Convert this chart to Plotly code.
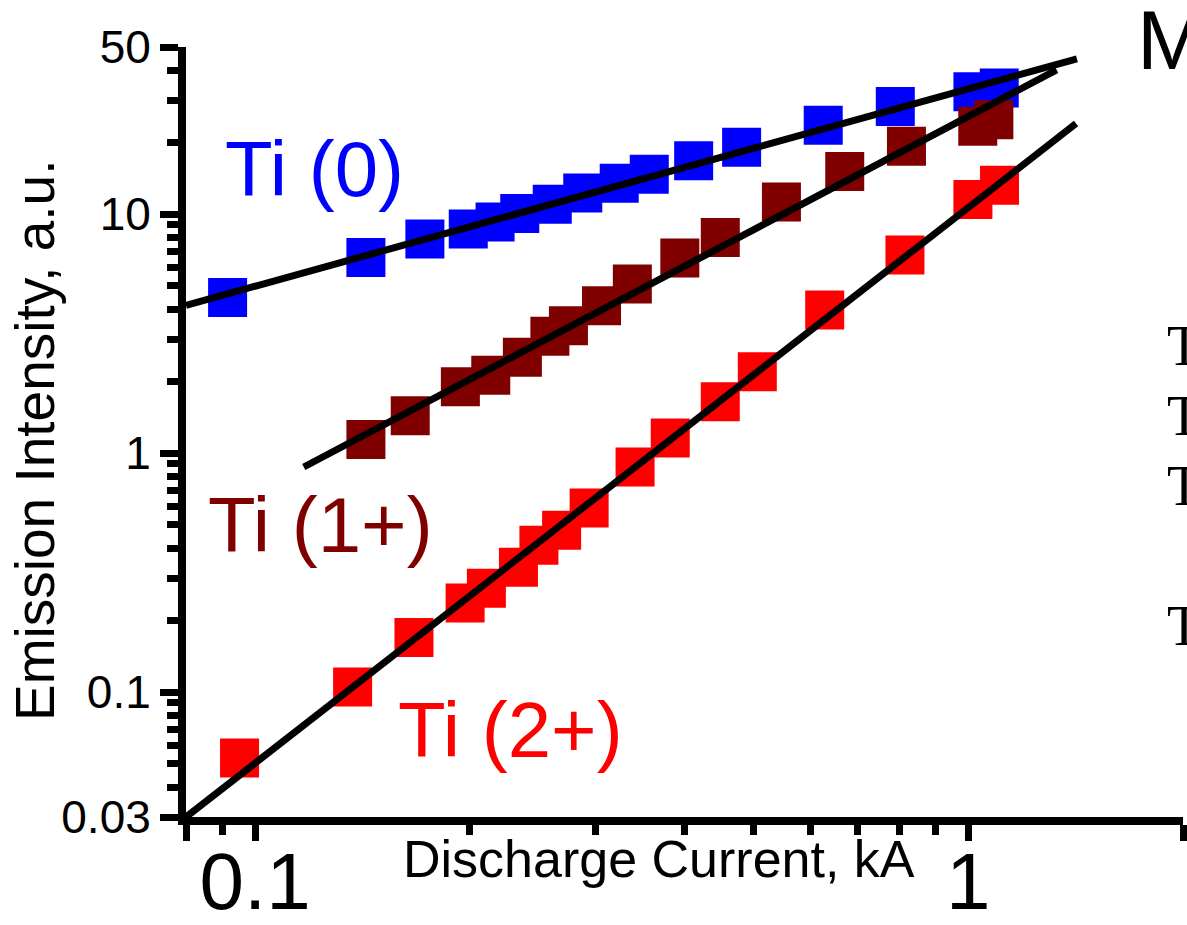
import plotly.graph_objects as go

# ---------------- data ----------------
ti0_x = [0.0915, 0.143, 0.173, 0.199, 0.217, 0.235, 0.261, 0.288, 0.324, 0.357,
         0.412, 0.481, 0.626, 0.79, 1.015, 1.105]
ti0_y = [4.48, 6.58, 7.86, 8.66, 9.26, 10.05, 11.0, 12.24, 13.47, 14.69,
         16.73, 19.04, 23.5, 28.2, 32.5, 33.7]

ti1_x = [0.143, 0.165, 0.194, 0.214, 0.237, 0.259, 0.275, 0.306, 0.338, 0.394,
         0.449, 0.547, 0.671, 0.819, 1.031, 1.086]
ti1_y = [1.139, 1.434, 1.895, 2.117, 2.517, 3.08, 3.41, 4.13, 5.1, 6.55,
         7.98, 11.22, 15.05, 19.23, 23.3, 24.8]

ti2_x = [0.0951, 0.137, 0.167, 0.197, 0.211, 0.234, 0.25, 0.269, 0.294, 0.341,
         0.382, 0.449, 0.506, 0.629, 0.815, 1.015, 1.106]
ti2_y = [0.053, 0.105, 0.169, 0.236, 0.272, 0.333, 0.411, 0.475, 0.589, 0.874,
         1.155, 1.641, 2.19, 3.97, 6.74, 11.5, 13.2]

# fitted power-law lines (end points)
fit0_x = [0.08, 1.42]
fit0_y = [4.15, 44.6]
fit1_x = [0.117, 1.33]
fit1_y = [0.874, 40.1]
fit2_x = [0.08, 1.416]
fit2_y = [0.03, 23.9]

x_tickvals = [0.08, 0.1, 1, 2]
x_ticktext = ["", "0.1", "1", ""]
x_minor = [0.09, 0.2, 0.3, 0.4, 0.5, 0.6, 0.7, 0.8, 0.9]
y_tickvals = [0.03, 0.1, 1, 10, 50]
y_ticktext = ["0.03", "0.1", "1", "10", "50"]
y_minor = [0.04, 0.05, 0.06, 0.07, 0.08, 0.09,
           0.2, 0.3, 0.4, 0.5, 0.6, 0.7, 0.8, 0.9,
           2, 3, 4, 5, 6, 7, 8, 9, 20, 30, 40]

# ---------------- layout geometry ----------------
W, H = 1187, 925
L, R, T, B = 186, 4, 47, 108
PW, PH = W - L - R, H - T - B


def px(x):
    return (x - L) / PW


def py(y):
    return (H - B - y) / PH


SANS = "Liberation Sans, Arial, sans-serif"
SERIF = "Liberation Serif, Times New Roman, serif"

fig = go.Figure()
msize = 39
for xs, ys, col in [(ti0_x, ti0_y, "#0000FF"),
                    (ti1_x, ti1_y, "#800000"),
                    (ti2_x, ti2_y, "#FF0000")]:
    fig.add_trace(go.Scatter(x=xs, y=ys, mode="markers",
                             marker=dict(symbol="square", size=msize, color=col,
                                         line=dict(width=0)),
                             cliponaxis=False, showlegend=False))

for xs, ys in [(fit0_x, fit0_y), (fit1_x, fit1_y), (fit2_x, fit2_y)]:
    fig.add_trace(go.Scatter(x=xs, y=ys, mode="lines",
                             line=dict(color="black", width=7),
                             showlegend=False))

fig.update_xaxes(type="log", range=[-1.09691, 0.30103], automargin=False,
                 showline=True, linewidth=8, linecolor="black",
                 showgrid=False, zeroline=False,
                 tickmode="array", tickvals=x_tickvals, ticktext=x_ticktext,
                 ticks="outside", ticklen=16, tickwidth=7, tickcolor="black",
                 ticklabelstandoff=-28,
                 tickfont=dict(family=SANS, size=80, color="black"),
                 minor=dict(tickmode="array", tickvals=x_minor, ticks="outside",
                            ticklen=10, tickwidth=7, tickcolor="black",
                            showgrid=False))
fig.update_yaxes(type="log", range=[-1.52288, 1.69897], automargin=False,
                 showline=True, linewidth=8, linecolor="black",
                 showgrid=False, zeroline=False,
                 tickmode="array", tickvals=y_tickvals, ticktext=y_ticktext,
                 ticks="outside", ticklen=18, tickwidth=7, tickcolor="black",
                 tickfont=dict(family=SANS, size=46, color="black"),
                 minor=dict(tickmode="array", tickvals=y_minor, ticks="outside",
                            ticklen=11, tickwidth=7, tickcolor="black",
                            showgrid=False))

ann = []


def add_text(text, x, y, size, color="black", family=SANS, xanchor="center",
             angle=0):
    ann.append(dict(text=text, x=px(x), y=py(y), xref="paper", yref="paper",
                    xanchor=xanchor, yanchor="middle", showarrow=False,
                    textangle=angle,
                    font=dict(family=family, size=size, color=color)))


add_text("Ti (0)", 314, 169, 78, "#0000FF")
add_text("Ti (1+)", 320, 525, 78, "#800000")
add_text("Ti (2+)", 510, 730, 78, "#FF0000")
add_text("M", 1135, 40, 84, "black", xanchor="left")
for yy in [346, 416, 486, 626]:
    add_text("T", 1165, yy, 56, "black", family=SERIF, xanchor="left")
add_text("Discharge Current, kA", 659, 859, 52)
add_text("Emission Intensity, a.u.", 35, 441, 55, angle=-90)

fig.update_layout(width=W, height=H,
                  margin=dict(l=L, r=R, t=T, b=B, pad=0, autoexpand=False),
                  paper_bgcolor="white", plot_bgcolor="white",
                  annotations=ann, showlegend=False)

fig.write_html("out.html")
